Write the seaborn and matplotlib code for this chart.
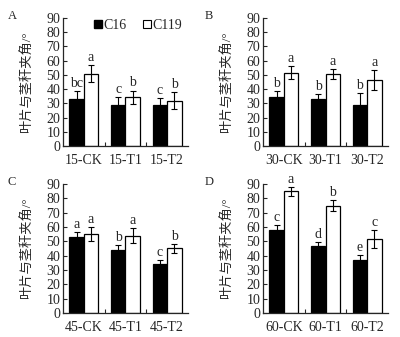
import matplotlib
matplotlib.use("Agg")
import matplotlib.pyplot as plt
import seaborn as sns
import pandas as pd
import numpy as np
from matplotlib.lines import Line2D

sns.set_style("ticks")
plt.rcParams['font.family'] = ['Liberation Serif', 'Noto Sans CJK SC']

cultivars = ["C16", "C119"]

groups_A = ["15-CK", "15-T1", "15-T2"]
c16_A = [33, 28.5, 28.5]
c16_A_err = [5.4, 6, 5]
c119_A = [50.7, 34.3, 31.8]
c119_A_err = [6, 4.7, 6]
let16_A = ["bc", "c", "c"]
let119_A = ["a", "b", "b"]

groups_B = ["30-CK", "30-T1", "30-T2"]
c16_B = [34.6, 33, 28.8]
c16_B_err = [4.3, 3.3, 8.2]
c119_B = [51.6, 50.7, 46.4]
c119_B_err = [4.7, 3.5, 7]
let16_B = ["b", "b", "b"]
let119_B = ["a", "a", "a"]

groups_C = ["45-CK", "45-T1", "45-T2"]
c16_C = [53.3, 44.2, 34.1]
c16_C_err = [3, 3, 2.6]
c119_C = [54.9, 54, 45.1]
c119_C_err = [5, 5.3, 3]
let16_C = ["a", "b", "c"]
let119_C = ["a", "a", "b"]

groups_D = ["60-CK", "60-T1", "60-T2"]
c16_D = [58.2, 46.7, 36.7]
c16_D_err = [3, 2.6, 3.5]
c119_D = [84.8, 75, 51.6]
c119_D_err = [3, 3.5, 6.4]
let16_D = ["c", "d", "e"]
let119_D = ["a", "b", "c"]

panels = [
    ("A", groups_A, c16_A, c16_A_err, c119_A, c119_A_err, let16_A, let119_A),
    ("B", groups_B, c16_B, c16_B_err, c119_B, c119_B_err, let16_B, let119_B),
    ("C", groups_C, c16_C, c16_C_err, c119_C, c119_C_err, let16_C, let119_C),
    ("D", groups_D, c16_D, c16_D_err, c119_D, c119_D_err, let16_D, let119_D),
]

W, H = 400, 337
fig = plt.figure(figsize=(W / 100, H / 100), dpi=100)

# axes rects in pixels: left, top(of 90), right, bottom(of 0)
rects = {
    "A": (63, 18, 188, 146),
    "B": (263, 18, 388, 146),
    "C": (63, 184, 188, 313),
    "D": (263, 184, 388, 313),
}
letter_pos = {"A": (8, 16), "B": (205, 16), "C": (8, 182), "D": (205, 182)}

for name, groups, m16, e16, m119, e119, l16, l119 in panels:
    l, t, r, b = rects[name]
    ax = fig.add_axes([l / W, 1 - b / H, (r - l) / W, (b - t) / H])
    df = pd.DataFrame({
        "group": groups * 2,
        "cultivar": [cultivars[0]] * 3 + [cultivars[1]] * 3,
        "value": list(m16) + list(m119),
    })
    sns.barplot(data=df, x="group", y="value", hue="cultivar",
                order=groups, hue_order=cultivars,
                palette={"C16": "black", "C119": "white"},
                edgecolor="black", linewidth=0.9, width=0.7, gap=0,
                errorbar=None, legend=False, ax=ax)
    for cont, means, errs, lets in zip(ax.containers, [m16, m119], [e16, e119], [l16, l119]):
        xs = [p.get_x() + p.get_width() / 2 for p in cont.patches]
        ax.errorbar(xs, means, yerr=errs, fmt="none", ecolor="black",
                    elinewidth=0.8, capsize=2.5, capthick=0.8, zorder=5)
        for x, m, e, s in zip(xs, means, errs, lets):
            ax.text(x, m + e + 0.8, s, ha="center", va="bottom", fontsize=10)
    ax.set_xlim(-0.5, 2.5)
    ax.set_ylim(0, 90)
    ax.set_yticks(np.arange(0, 91, 10))
    ax.set_xlabel("")
    ax.set_ylabel("叶片与茎秆夹角/°", fontsize=9.5, labelpad=4)
    ax.tick_params(axis="y", direction="in", length=3, width=0.8, labelsize=10, pad=2)
    ax.tick_params(axis="x", which="major", length=0, labelsize=10, pad=6)
    ax.set_xticks([0.5, 1.5], minor=True)
    ax.tick_params(axis="x", which="minor", direction="in", length=3, width=0.8)
    for sp in ["top", "right"]:
        ax.spines[sp].set_visible(False)
    for sp in ["left", "bottom"]:
        ax.spines[sp].set_linewidth(0.9)
    ax.yaxis.set_label_coords(-0.23, 0.5)
    lx, ly = letter_pos[name]
    fig.text(lx / W, 1 - ly / H, name, fontsize=9, ha="left", va="center")
    if name == "A":
        handles = [
            Line2D([], [], marker="s", color="black", markerfacecolor="black",
                   markeredgecolor="black", markersize=6, linestyle="none"),
            Line2D([], [], marker="s", color="black", markerfacecolor="white",
                   markeredgecolor="black", markersize=6, linestyle="none", markeredgewidth=0.8),
        ]
        ax.legend(handles, cultivars, loc="center", bbox_to_anchor=(0.6, 0.945),
                  ncol=2, frameon=False, fontsize=10, handlelength=0.6,
                  handletextpad=0.1, columnspacing=1.2, borderpad=0)

fig.savefig("out.png", dpi=100)
